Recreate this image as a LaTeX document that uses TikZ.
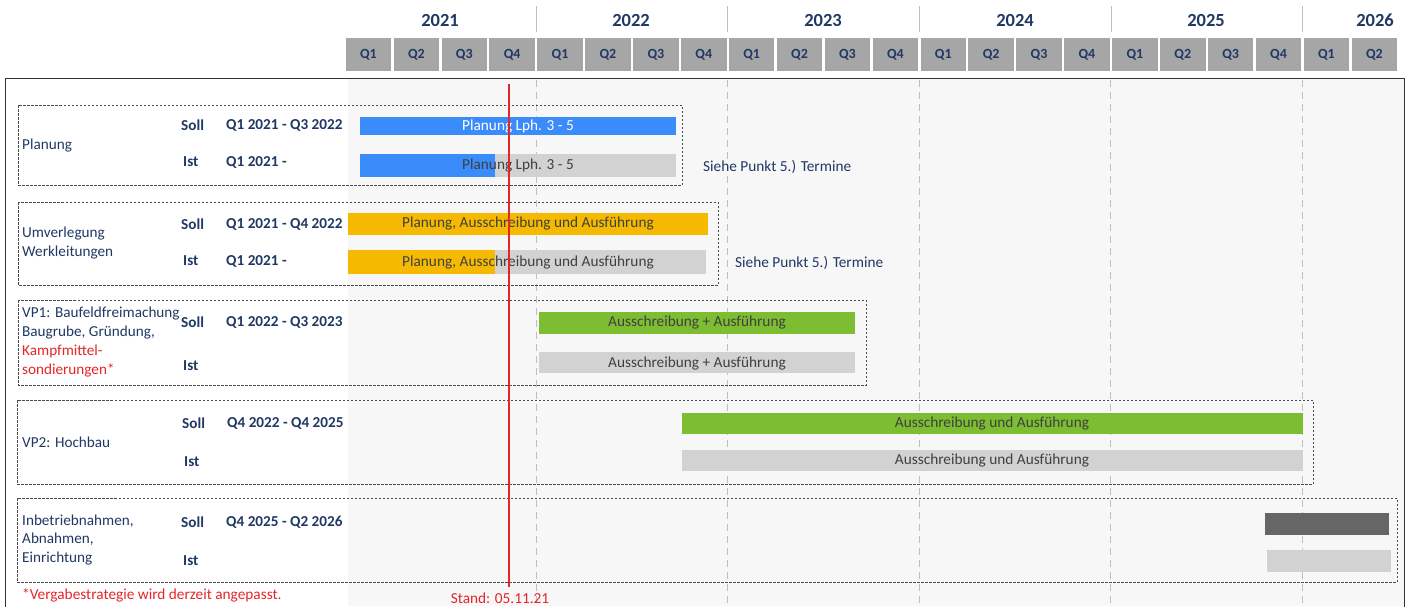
\documentclass[tikz,border=0pt]{standalone}
\usepackage{fontspec}
\setmainfont{Carlito}
\definecolor{navy}{HTML}{1F3864}
\definecolor{hdrgray}{HTML}{A6A6A6}
\definecolor{bodybg}{HTML}{F7F7F7}
\definecolor{barblue}{HTML}{3A8CFA}
\definecolor{baryellow}{HTML}{F5BA00}
\definecolor{bargreen}{HTML}{7DBD32}
\definecolor{barlight}{HTML}{D2D2D2}
\definecolor{bardark}{HTML}{666666}
\definecolor{bartext}{HTML}{404040}
\definecolor{redline}{HTML}{E3262A}
\definecolor{sepgray}{HTML}{BFBFBF}
\tikzset{
  yearlbl/.style={font=\bfseries\fontsize{18.5}{20}\selectfont, text=navy},
  qbox/.style={fill=hdrgray, draw=none, inner sep=0pt, minimum height=33pt, minimum width=45.5pt, font=\bfseries\fontsize{14}{16}\selectfont, text=navy},
  grp/.style={draw=black!70, dashed, dash pattern=on 2.5pt off 1.5pt, line width=0.8pt},
  lbl/.style={anchor=west, inner sep=0pt, font=\fontsize{15.2}{18.7}\selectfont, text=navy, align=left},
  si/.style={anchor=west, inner sep=0pt, font=\bfseries\fontsize{15.2}{18}\selectfont, text=navy},
  bartxt/.style={inner sep=0pt, font=\fontsize{15.3}{18}\selectfont, text=bartext},
  note/.style={anchor=west, inner sep=0pt, font=\fontsize{15.3}{18}\selectfont, text=navy},
  redtxt/.style={inner sep=0pt, font=\fontsize{15.3}{18}\selectfont, text=redline},
}
\begin{document}
\begin{tikzpicture}[x=1pt,y=-1pt]
\useasboundingbox (0,0) rectangle (1407,606);
% body background and frame
\fill[bodybg] (348,79) rectangle (1404,606);
\draw[black!80, line width=0.8pt] (5,78) rectangle (1404,612);
% year separators
\foreach \xs in {536.1,727.7,919.3,1110.9,1302.5}{
  \draw[sepgray, line width=0.8pt] (\xs,6) -- (\xs,32);
  \draw[sepgray, line width=1pt, dash pattern=on 7pt off 5pt] (\xs,80) -- (\xs,606);
}
% year labels
\node[yearlbl] (y2021) at (440,20) {2021};
\node[yearlbl] (y2022) at (631,20) {2022};
\node[yearlbl] (y2023) at (823,20) {2023};
\node[yearlbl] (y2024) at (1015,20) {2024};
\node[yearlbl] (y2025) at (1206,20) {2025};
\node[yearlbl] (y2026) at (1375,20) {2026};
% quarter boxes
\foreach \i in {0,...,21}{
  \pgfmathtruncatemacro{\qn}{mod(\i,4)+1}
  \node[qbox] (q\i) at ({344.5+(\i+0.5)*47.9},54.5) {Q\qn};
}
% group 1: Planung
\draw[grp] (18,105) rectangle (682,185);
\node[lbl] (g1) at (22,146) {Planung};
\node[si] (g1s) at (181,125) {Soll};
\node[si] (g1sd) at (226,125) {Q1 2021 - Q3 2022};
\node[si] (g1i) at (183,162) {Ist};
\node[si] (g1id) at (226,162) {Q1 2021 -};
\fill[barblue] (360,117) rectangle (676,135);
\node[bartxt, text=white] (b1s) at (518,126) {Planung Lph. 3 - 5};
\fill[barlight] (495,154) rectangle (676,177);
\fill[barblue] (360,154) rectangle (495,177);
\node[bartxt] (b1i) at (518,165) {Planung Lph. 3 - 5};
\node[note] (n1) at (703,167) {Siehe Punkt 5.) Termine};
% group 2: Umverlegung
\draw[grp] (18,202) rectangle (718,285);
\node[lbl] (g2) at (22,243) {Umverlegung\\Werkleitungen};
\node[si] (g2s) at (181,224) {Soll};
\node[si] (g2sd) at (226,224) {Q1 2021 - Q4 2022};
\node[si] (g2i) at (183,261) {Ist};
\node[si] (g2id) at (226,261) {Q1 2021 -};
\fill[baryellow] (348,213) rectangle (708,235);
\node[bartxt] (b2s) at (528,223) {Planung, Ausschreibung und Ausführung};
\fill[barlight] (495,250) rectangle (706,274);
\fill[baryellow] (348,250) rectangle (495,274);
\node[bartxt] (b2i) at (528,262) {Planung, Ausschreibung und Ausführung};
\node[note] (n2) at (735,263) {Siehe Punkt 5.) Termine};
% group 3: VP1
\draw[grp] (18,300) rectangle (866,385);
\node[lbl] (g3) at (22,342) {VP1: Baufeldfreimachung\\Baugrube, Gründung,\\\textcolor{redline}{Kampfmittel-}\\\textcolor{redline}{sondierungen*}};
\node[si] (g3s) at (181,322) {Soll};
\node[si] (g3sd) at (226,322) {Q1 2022 - Q3 2023};
\node[si] (g3i) at (183,366) {Ist};
\fill[bargreen] (539,312) rectangle (855,334);
\node[bartxt] (b3s) at (697,322) {Ausschreibung + Ausführung};
\fill[barlight] (539,352) rectangle (855,373);
\node[bartxt] (b3i) at (697,363) {Ausschreibung + Ausführung};
% group 4: VP2
\draw[grp] (17,400) rectangle (1313,484);
\node[lbl] (g4) at (22,442) {VP2: Hochbau};
\node[si] (g4s) at (182,423) {Soll};
\node[si] (g4sd) at (227,423) {Q4 2022 - Q4 2025};
\node[si] (g4i) at (184,462) {Ist};
\fill[bargreen] (682,413) rectangle (1303,434);
\node[bartxt] (b4s) at (992,423) {Ausschreibung und Ausführung};
\fill[barlight] (682,450) rectangle (1303,471);
\node[bartxt] (b4i) at (992,460) {Ausschreibung und Ausführung};
% group 5: Inbetriebnahmen
\draw[grp] (17,498) rectangle (1397,582);
\node[lbl] (g5) at (22,540) {Inbetriebnahmen,\\Abnahmen,\\Einrichtung};
\node[si] (g5s) at (181,522) {Soll};
\node[si] (g5sd) at (226,522) {Q4 2025 - Q2 2026};
\node[si] (g5i) at (183,561) {Ist};
\fill[bardark] (1265,513) rectangle (1389,535);
\fill[barlight] (1267,550) rectangle (1391,572);
% footer
\node[redtxt, anchor=west] (foot) at (22,595) {*Vergabestrategie wird derzeit angepasst.};
% Stand line
\coordinate (st) at (509,84);
\node[redtxt] (stand) at (500,598) {Stand: 05.11.21};
\draw[redline, line width=2.6pt] (st) -- (509,587);
\end{tikzpicture}
\end{document}
